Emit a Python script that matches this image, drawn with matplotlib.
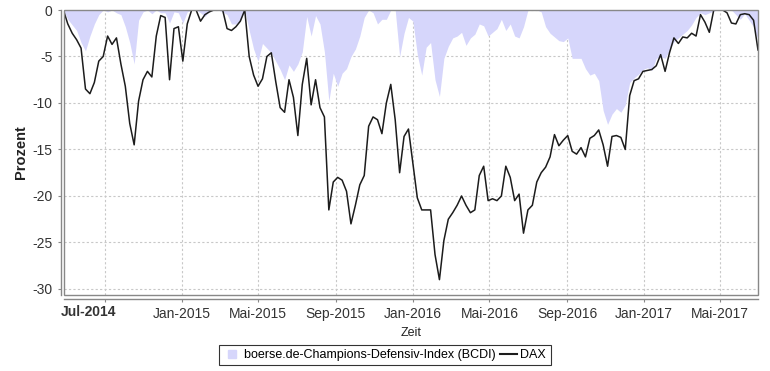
import matplotlib
matplotlib.use("Agg")
import matplotlib.pyplot as plt
from matplotlib.lines import Line2D
from matplotlib.patches import Rectangle
import pandas as pd

plt.rcParams['font.family'] = ['Liberation Sans', 'DejaVu Sans']

# weekly drawdown in percent, Fridays from 27.06.2014 to 30.06.2017
dates = pd.date_range('2014-06-27', periods=158, freq='7D')

dax = [
    0, -1.5, -2.5, -3.2, -4.1, -8.5, -9.0, -7.8, -5.5, -5.0,
    -2.8, -3.7, -3.0, -5.8, -8.2, -12.2, -14.5, -9.8, -7.5, -6.6,
    -7.2, -2.8, -0.6, -0.8, -7.5, -2.0, -1.8, -5.5, -1.5, 0,
    0, -1.2, -0.5, -0.2, 0, 0, 0, -2.0, -2.2, -1.8,
    -1.2, 0, -5.0, -7.0, -8.2, -7.4, -5.0, -4.6, -7.7, -10.5,
    -11.0, -7.5, -9.4, -13.5, -8.0, -5.2, -10.2, -7.5, -10.5, -11.5,
    -21.5, -18.5, -18.0, -18.3, -19.5, -23.0, -21.0, -18.8, -17.8, -12.5,
    -11.5, -11.8, -13.3, -10.0, -8.0, -11.8, -17.5, -13.6, -12.8, -16.5,
    -20.2, -21.5, -21.5, -21.5, -26.3, -29.0, -24.8, -22.5, -21.8, -21.0,
    -20.0, -21.0, -21.8, -21.5, -17.8, -16.8, -20.5, -20.3, -20.5, -20.0,
    -16.8, -18.0, -20.5, -19.8, -24.0, -21.5, -21.0, -18.5, -17.5, -16.9,
    -15.8, -13.4, -14.6, -14.0, -13.5, -15.2, -15.5, -14.8, -15.8, -13.8,
    -13.5, -12.9, -14.5, -16.8, -13.6, -13.5, -13.7, -15.0, -9.2, -7.6,
    -7.4, -6.6, -6.5, -6.4, -6.0, -4.8, -6.6, -4.6, -3.0, -3.6,
    -2.9, -3.0, -2.5, -2.8, -0.5, -1.3, -2.4, 0, 0, 0,
    -0.3, -1.4, -1.5, -0.5, -0.4, -0.5, -1.1, -4.3,
]

bcdi = [
    0, -1.0, -1.6, -2.2, -3.5, -4.4, -2.8, -1.5, -0.5, 0,
    -0.2, 0, -0.3, -0.5, -1.8, -3.5, -5.8, -1.1, -0.2, 0,
    -0.4, 0, -0.3, -0.3, -1.4, -0.2, -0.3, -1.4, -0.2, 0,
    0, -0.3, -0.7, -0.1, 0, 0, -0.2, -0.5, -1.5, -1.5,
    -1.1, 0, -2.2, -4.2, -5.5, -3.6, -4.1, -4.6, -5.5, -6.4,
    -7.5, -5.9, -6.6, -5.8, -4.5, -0.7, -2.8, -0.6, -1.5, -4.5,
    -9.8, -6.8, -8.2, -6.8, -6.3, -5.0, -4.2, -2.8, -0.8, 0,
    -0.3, -1.5, -1.0, -1.0, 0, 0, -5.0, -2.5, -0.8, -1.2,
    -4.8, -7.0, -4.0, -3.5, -7.5, -9.3, -5.2, -3.9, -3.0, -2.8,
    -2.4, -3.8, -3.0, -2.6, -1.5, -1.7, -2.8, -2.4, -2.0, -1.0,
    -2.2, -1.5, -2.8, -3.0, -1.8, 0, 0, 0, -0.2, -1.8,
    -2.5, -2.9, -3.3, -3.4, -3.0, -5.2, -5.2, -5.2, -6.3, -7.0,
    -6.8, -7.6, -10.8, -12.3, -11.2, -10.6, -11.0, -10.2, -7.8, -7.3,
    -6.9, -6.4, -6.2, -6.5, -5.2, -5.0, -5.2, -4.3, -3.4, -3.0,
    -2.6, -2.2, -1.6, -0.8, -0.3, -0.5, -0.3, -0.1, 0, 0,
    0, 0, -0.5, -1.0, -0.4, -1.1, -1.8, -3.2,
]

yticks = [0, -5, -10, -15, -20, -25, -30]
months_de = {1: 'Jan', 5: 'Mai', 9: 'Sep'}
xticks = pd.date_range('2014-09-01', '2017-05-01', freq='4MS')
xlabels = ['' if i == 0 else f"{months_de[d.month]}-{d.year}" for i, d in enumerate(xticks)]

fill_col = '#d6d6fb'
line_col = '#1c1c1c'
frame_col = '#888888'

fig = plt.figure(figsize=(7.7, 3.71), dpi=100)
ax = fig.add_axes([64 / 770, 1 - 295 / 371, (758 - 64) / 770, (295 - 10) / 371])

ax.fill_between(dates, bcdi, 0, color=fill_col, lw=0, zorder=1)
ax.plot(dates, dax, color=line_col, lw=1.1, zorder=3)

ax.set_xlim(pd.Timestamp('2014-06-28'), pd.Timestamp('2017-06-30'))
ax.set_ylim(-30.65, 0)
ax.set_yticks(yticks)
ax.set_yticklabels([str(v) for v in yticks])
ax.set_xticks(xticks)
ax.set_xticklabels(xlabels)

ax.grid(True, color='#c8c8c8', ls=(0, (2, 2)), lw=0.8, zorder=0)
ax.set_axisbelow(True)

# plot outline plus offset axis lines
ax.add_patch(Rectangle((0, 0), 1, 1, transform=ax.transAxes, fill=False,
                       edgecolor=frame_col, lw=1.0, zorder=5, clip_on=False))
for s in ['top', 'right']:
    ax.spines[s].set_visible(False)
ax.spines['left'].set_position(('outward', 2.2))
ax.spines['bottom'].set_position(('outward', 2.9))
for s in ['left', 'bottom']:
    ax.spines[s].set_color(frame_col)
    ax.spines[s].set_linewidth(1.0)

ax.tick_params(axis='both', colors=frame_col, length=2, width=0.8, labelsize=10,
               labelcolor='#333333')
ax.tick_params(axis='y', pad=4)
ax.tick_params(axis='x', pad=4)

ax.annotate('Jul-2014', xy=(0, 0), xycoords='axes fraction', xytext=(-3, -10),
            textcoords='offset pixels', ha='left', va='top', fontsize=10,
            fontweight='bold', color='#333333')

ax.set_ylabel('Prozent', fontsize=10.5, fontweight='bold', color='#222222', labelpad=3)
ax.set_xlabel('Zeit', fontsize=9, color='#222222', labelpad=4)

handles = [
    Line2D([], [], marker='s', ls='none', color=fill_col, markersize=6),
    Line2D([], [], color=line_col, lw=1.5),
]
leg = fig.legend(handles, ['boerse.de-Champions-Defensiv-Index (BCDI)', 'DAX'],
                 loc='center', bbox_to_anchor=(0.5, 0.043), ncol=2, fontsize=9,
                 frameon=True, fancybox=False, edgecolor='black', handlelength=1.3,
                 handletextpad=0.3, columnspacing=0.4, borderpad=0.35, borderaxespad=0)
leg.get_frame().set_linewidth(0.8)

fig.savefig('out.png', dpi=100)
